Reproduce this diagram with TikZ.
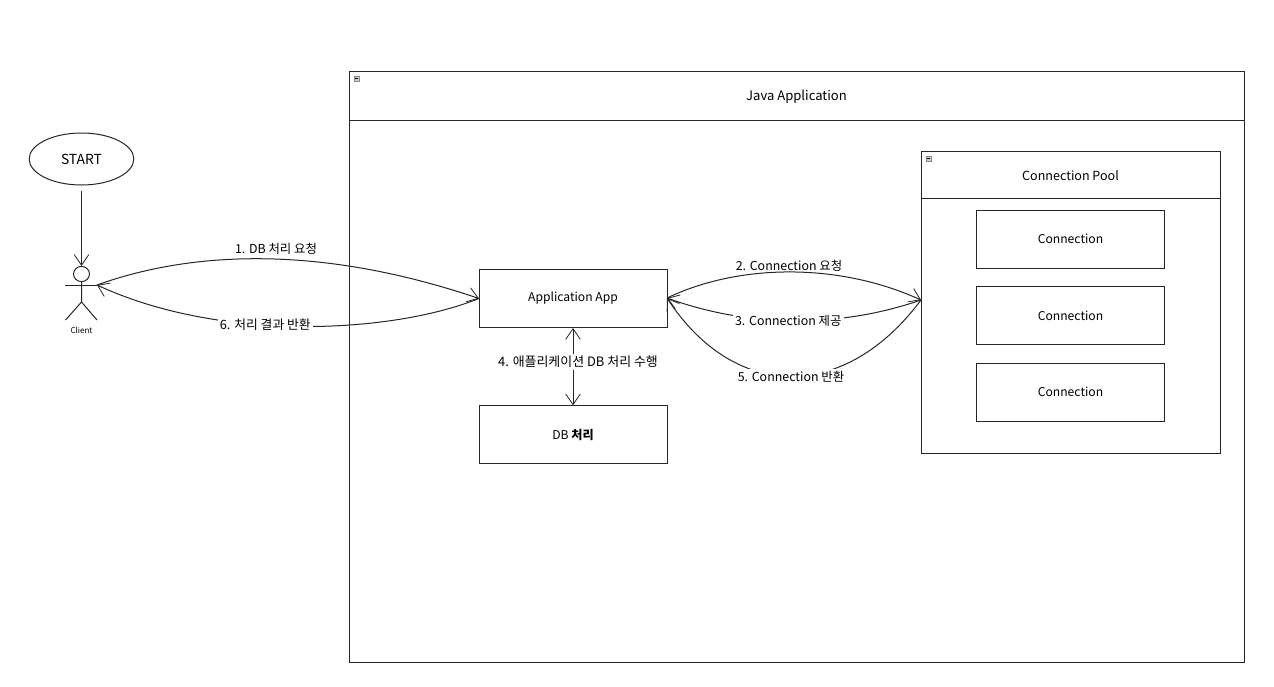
\documentclass[tikz,border=0pt]{standalone}
\usepackage{fontspec}
\usepackage{amsmath}
\setmainfont{Noto Sans CJK KR}
\usetikzlibrary{arrows.meta,shapes.geometric,positioning}
\tikzset{
    px/.style={x=0.75pt,y=-0.75pt,line width=0.75pt},
    line/.style={draw=black!85,line width=0.75pt},
    box/.style={line,rectangle,minimum width=141pt,minimum height=43.5pt,inner sep=0pt,font=\fontsize{9.1}{11}\selectfont},
    frame/.style={line,rectangle,inner sep=0pt},
    title/.style={inner sep=0pt,font=\fontsize{9.4}{11}\selectfont},
    tag/.style={inner sep=1.5pt,font=\fontsize{9.3}{11}\selectfont},
    onwire/.style={tag,fill=white},
    icon/.style={draw=black!45,fill=black!20,line width=0.4pt,minimum size=4pt,inner sep=0pt,
        path picture={\draw[black,line width=0.6pt] ([xshift=-1.3pt]path picture bounding box.center) -- ([xshift=1.3pt]path picture bounding box.center);}},
    wire/.style={line,-{Straight Barb[length=8pt,width=11pt,line width=0.6pt]}},
    twoway/.style={line,{Straight Barb[length=8pt,width=11pt,line width=0.6pt]}-{Straight Barb[length=8pt,width=11pt,line width=0.6pt]}},
}
\begin{document}
\begin{tikzpicture}[px]
    \useasboundingbox (0,0) rectangle (1274,686);

    % java application frame
    \node [frame, minimum width=671.25pt, minimum height=443.25pt] (java) at (796.5,366.5) {};
    \coordinate (javal) at (349,120.5);
    \coordinate (javar) at (1244,120.5);
    \draw [line] (javal) -- (javar);
    \node [title, font=\fontsize{9.8}{11}\selectfont] (javat) at (796.5,96.5) {Java Application};
    \node [icon] (javai) at (356.5,78.5) {};

    % connection pool
    \node [frame, minimum width=224.25pt, minimum height=226.5pt] (pool) at (1070.5,302) {};
    \coordinate (pooll) at (921,198.5);
    \coordinate (poolr) at (1220,198.5);
    \draw [line] (pooll) -- (poolr);
    \node [title] (poolt) at (1070.5,175.5) {Connection Pool};
    \node [icon] (pooli) at (928.5,158.5) {};
    \node [box] (conna) at (1070.5,239) {Connection};
    \node [box] (connb) at (1070.5,315.5) {Connection};
    \node [box] (connc) at (1070.5,392) {Connection};

    \node [box] (app) at (573,298.5) {Application App};
    \node [box] (db) at (573,434.8) {DB \textbf{처리}};

    % client
    \node [line, ellipse, minimum width=78.5pt, minimum height=39pt, inner sep=0pt, font=\fontsize{10.4}{12}\selectfont] (start) at (81.5,159) {START};
    \coordinate (startb) at (81.5,191);
    \node [line, circle, minimum size=12pt, inner sep=0pt, yscale=0.95] (head) at (81.5,274) {};
    \coordinate (neck) at (81.5,285);
    \coordinate (arml) at (65,285);
    \coordinate (armr) at (97,285);
    \coordinate (hip) at (81.5,302);
    \coordinate (legl) at (65.5,320);
    \coordinate (legr) at (97,320);
    \draw [line] (head) -- (hip) -- (legl);
    \draw [line] (hip) -- (legr);
    \draw [line] (arml) -- (armr);
    \node [inner sep=0pt, font=\fontsize{6}{8}\selectfont] (client) at (81.5,330) {Client};

    \coordinate (appw) at (479,298.5);
    \coordinate (appe) at (667,298);
    \coordinate (poolw) at (921,300);

    \draw [wire] (startb) -- (head.north);
    \draw [wire] (armr) .. controls (200,248) and (330,248) .. (appw);
    \node [tag] (msga) at (276,248.5) {1. DB 처리 요청};
    \draw [wire] (appw) .. controls (390,334) and (220,342) .. node [onwire, pos=0.585, font=\fontsize{9.6}{11}\selectfont] (msgf) {6. 처리 결과 반환} (armr);

    \draw [wire] (appe) .. controls (740,263) and (840,263) .. (poolw);
    \node [tag] (msgb) at (789,265.5) {2. Connection 요청};
    \draw [wire] (poolw) .. controls (840,328) and (750,328) .. node [onwire, pos=0.525] (msgc) {3. Connection 제공} (appe);
    \draw [wire] (poolw) .. controls (845,402) and (735,402) .. node [onwire, pos=0.5] (msge) {5. Connection 반환} (appe);
    \draw [twoway] (app.south) -- node [onwire, xshift=3.75pt, pos=0.44, font=\fontsize{9.7}{12}\selectfont] (msgd) {4. 애플리케이션 DB 처리 수행} (db.north);
\end{tikzpicture}
\end{document}
